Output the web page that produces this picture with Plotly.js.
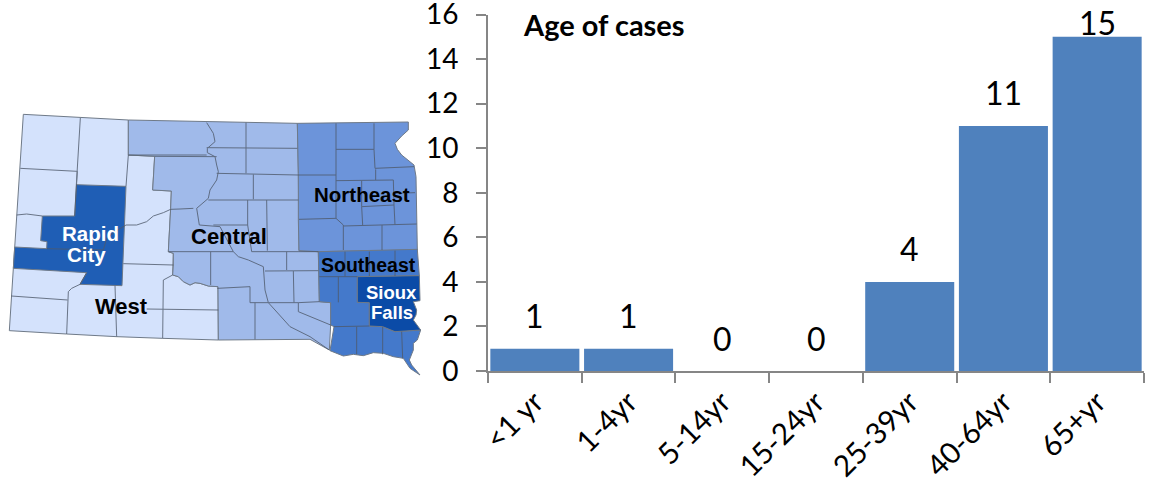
<!DOCTYPE html>
<html><head><meta charset="utf-8"><script src="https://cdn.plot.ly/plotly-3.0.1.min.js"></script>
<style>html,body{margin:0;padding:0;background:#fff}#c{width:1153px;height:490px}</style></head>
<body><div id="c"></div><script>
const categories=['<1 yr','1-4yr','5-14yr','15-24yr','25-39yr','40-64yr','65+yr'];
const cases=[1,1,0,0,4,11,15];
const yTicks=[0,2,4,6,8,10,12,14,16];
// map shapes in a 3x map frame
const westOutline=[[70,13],[385,30],[385,135],[464,139],[458,240],[514,243],[512,295],[505,425],[520,430],[520,465],[518,495],[535,500],[550,515],[570,525],[585,518],[600,520],[625,528],[654,530],[655,690],[488,685],[350,680],[200,672],[28,662],[40,475],[44,411],[50,315],[61,175]];
const centralOutline=[[385,30],[892,40],[895,190],[895,330],[897,422],[955,425],[958,575],[992,578],[992,645],[988,720],[960,705],[930,688],[655,690],[654,530],[625,528],[600,520],[585,518],[570,525],[550,515],[535,500],[518,495],[520,465],[520,430],[505,425],[512,295],[514,243],[458,240],[464,139],[385,135]];
const northeastOutline=[[892,40],[1225,36],[1225,60],[1205,78],[1185,100],[1192,118],[1205,135],[1225,150],[1242,165],[1248,200],[1252,420],[955,425],[897,422],[895,330],[895,190]];
const southeastOutline=[[955,425],[1252,418],[1258,497],[1072,500],[1072,577],[1108,578],[1108,648],[1148,650],[1185,665],[1262,660],[1252,690],[1240,700],[1240,720],[1228,750],[1235,765],[1260,795],[1230,775],[1210,745],[1180,740],[1150,730],[1120,728],[1090,737],[1060,733],[1030,738],[990,722],[1002,650],[992,645],[992,578],[958,575]];
const siouxOutline=[[1072,500],[1258,497],[1260,572],[1240,575],[1250,600],[1248,615],[1240,630],[1262,660],[1185,665],[1148,650],[1108,648],[1108,578],[1072,577]];
const rapidOutline=[[229,224],[378,229],[366,527],[240,523],[260,488],[40,475],[44,411],[140,416],[141,395],[122,392],[127,318],[224,318]];
const countyLines=[
[[241,24],[232,184],[229,224]],[[61,175],[232,184]],[[50,315],[80,312],[127,318]],[[224,318],[232,184]],
[[140,416],[310,420],[320,385],[345,365],[378,345],[410,345],[440,335],[460,318],[490,308],[512,298],[540,297],[580,295]],
[[260,488],[240,523],[215,535],[205,545],[200,672]],[[34,558],[203,570]],[[345,527],[350,680]],
[[378,229],[385,135]],[[370,461],[520,465]],[[490,510],[518,495]],[[490,510],[488,685]],[[440,597],[490,598],[655,600]],
[[620,38],[640,70],[645,95],[622,115],[622,128],[645,140],[650,165],[655,185],[650,210],[630,240],[625,265],[590,295],[598,345],[660,350],[700,425],[715,440],[745,450],[770,460],[790,470],[795,540],[805,578],[825,600],[870,650],[930,680],[988,720]],
[[385,135],[620,135]],[[464,139],[650,140]],[[505,425],[700,425]],[[632,425],[632,525]],
[[738,38],[738,190]],[[620,113],[892,115]],[[650,190],[895,195]],[[760,193],[760,268]],[[625,270],[895,270]],[[743,270],[743,345],[755,425]],[[800,270],[802,422]],[[640,345],[743,345]],
[[755,425],[955,425]],[[860,425],[860,480]],[[795,483],[955,482]],[[880,483],[882,578]],[[750,530],[750,578]],[[652,535],[750,530]],[[750,578],[805,578]],[[765,578],[765,688]],[[895,578],[958,575]],[[895,578],[895,605],[992,645]],[[805,578],[895,578]],
[[1008,40],[1008,325]],[[1122,40],[1122,118],[1008,118]],[[1122,118],[1125,175],[1242,170]],[[1127,178],[1127,210]],[[895,195],[1008,195]],[[1008,212],[1180,210],[1182,285],[1085,290],[1085,212]],[[1085,290],[1088,345]],[[1182,285],[1185,345]],[[1182,250],[1245,248]],[[1008,325],[897,328]],[[1008,325],[1030,345],[1030,420]],[[1030,348],[1250,342]],[[1146,345],[1146,420]],
[[1035,425],[1035,500]],[[1108,425],[1108,498]],[[1185,422],[1185,498]],[[958,500],[1072,500]],[[1015,500],[1015,577]],[[1002,650],[1108,648]],[[1070,650],[1070,733]],[[1148,650],[1148,733]],[[1205,665],[1208,745]]];
const regionColors={west:'#d4e2fc',central:'#a0baea',northeast:'#6c94da',southeast:'#4479cb',rapid:'#1f5eb5',sioux:'#0b4ba7'};
const mapLabelNames=['Rapid','City','West','Central','Northeast','Southeast','Sioux','Falls'];
const mapLabelSpots=[[271,371],[258,433],[365,590],[687,378],[1085,252],[1105,464],[1173,546],[1175,606]];
const mapLabelSizes=[20.5,20.5,22,22,20.5,19.5,18.5,18.5];
const mapLabelColors=['#fff','#fff','#000','#000','#000','#000','#fff','#fff'];

const region=(pts,color)=>({type:'scatter',mode:'lines',xaxis:'x2',yaxis:'y2',x:[...pts.map(p=>p[0]),pts[0][0]],y:[...pts.map(p=>p[1]),pts[0][1]],
  fill:'toself',fillcolor:color,line:{color:'#6f7a88',width:1},hoverinfo:'skip'});
const traces=[
 region(westOutline,regionColors.west),region(centralOutline,regionColors.central),region(northeastOutline,regionColors.northeast),
 region(southeastOutline,regionColors.southeast),region(siouxOutline,regionColors.sioux),region(rapidOutline,regionColors.rapid)];
const lx=[],ly=[];countyLines.forEach(l=>{l.forEach(p=>{lx.push(p[0]);ly.push(p[1])});lx.push(null);ly.push(null)});
traces.push({type:'scatter',mode:'lines',xaxis:'x2',yaxis:'y2',x:lx,y:ly,connectgaps:false,line:{color:'#4f5a6b',width:1},opacity:.8,hoverinfo:'skip'});
traces.push({type:'bar',x:categories,y:cases,marker:{color:'#4f81bd'},xaxis:'x',yaxis:'y',hoverinfo:'skip'});

const chartFont='Lato, "Open Sans", sans-serif';
const annotations=categories.map((c,i)=>({xref:'x',yref:'y',x:c,y:cases[i],text:String(cases[i]),showarrow:false,yshift:cases[i]===15?14:33,
  font:{family:chartFont,size:32,color:'#000'}}));
annotations.push({xref:'x',yref:'y',x:-0.145,y:15.55,text:'<b>Age of cases</b>',showarrow:false,xanchor:'left',font:{family:chartFont,size:29,color:'#000'}});
mapLabelNames.forEach((m,i)=>annotations.push({xref:'x2',yref:'y2',x:mapLabelSpots[i][0],y:mapLabelSpots[i][1],text:'<b>'+m+'</b>',showarrow:false,
  font:{family:'"Liberation Sans", Arial, sans-serif',size:mapLabelSizes[i],color:mapLabelColors[i]}}));

Plotly.newPlot('c',traces,{
 width:1153,height:490,margin:{l:0,r:0,t:0,b:0},paper_bgcolor:'#fff',plot_bgcolor:'rgba(0,0,0,0)',showlegend:false,bargap:0.05,
 xaxis:{domain:[488/1153,1144/1153],anchor:'y',type:'category',range:[-0.5,6.5],tickson:'boundaries',ticks:'outside',ticklen:10,tickwidth:2,tickcolor:'#868686',
   showline:true,linecolor:'#868686',linewidth:2,showgrid:false,zeroline:false,tickangle:-45,tickfont:{family:chartFont,size:29.5,color:'#000'},automargin:false,categoryorder:'array',categoryarray:categories},
 yaxis:{domain:[119/490,475.5/490],anchor:'x',range:[0,16],tickvals:yTicks,ticks:'outside',ticklen:10,tickwidth:2,tickcolor:'#868686',ticklabeloverflow:'allow',
   showline:true,linecolor:'#868686',linewidth:2,showgrid:false,zeroline:false,tickfont:{family:chartFont,size:28,color:'#000'},ticklabelstandoff:12,automargin:false},
 xaxis2:{domain:[0,1],anchor:'y2',range:[0,3459],visible:false,fixedrange:true},
 yaxis2:{domain:[0,1],anchor:'x2',range:[1140,-330],visible:false,fixedrange:true},
 annotations
},{displayModeBar:false,staticPlot:true});
</script></body></html>
